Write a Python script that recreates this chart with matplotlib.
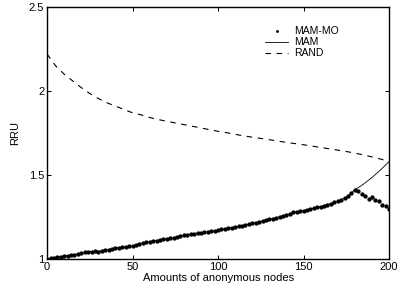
import matplotlib
matplotlib.use('Agg')
from matplotlib import pyplot
import numpy

pyplot.rcParams['font.family'] = ['Liberation Sans', 'DejaVu Sans']

# MAM-MO, sampled every 2 nodes
moNodes = numpy.arange(0, 201, 2)
moValues = [
    1.000, 1.004, 1.006, 1.010, 1.013, 1.018, 1.020, 1.024, 1.026, 1.028,
    1.033, 1.040, 1.044, 1.043, 1.046, 1.044, 1.050, 1.053, 1.056, 1.062,
    1.066, 1.068, 1.070, 1.073, 1.075, 1.077, 1.082, 1.090, 1.096, 1.100,
    1.104, 1.108, 1.110, 1.113, 1.118, 1.121, 1.125, 1.128, 1.131, 1.135,
    1.140, 1.142, 1.147, 1.150, 1.152, 1.157, 1.160, 1.162, 1.165, 1.168,
    1.172, 1.176, 1.180, 1.183, 1.186, 1.190, 1.195, 1.199, 1.203, 1.207,
    1.212, 1.217, 1.222, 1.226, 1.231, 1.236, 1.241, 1.246, 1.252, 1.258,
    1.263, 1.270, 1.278, 1.282, 1.285, 1.288, 1.292, 1.296, 1.302, 1.307,
    1.312, 1.318, 1.324, 1.330, 1.337, 1.344, 1.352, 1.362, 1.375, 1.392,
    1.412, 1.402, 1.386, 1.378, 1.360, 1.370, 1.350, 1.345, 1.322, 1.318,
    1.295,
]

# MAM and RAND, sampled every 5 nodes
nodes = numpy.arange(0, 201, 5)
mamValues = [
    1.000, 1.010, 1.018, 1.025, 1.033, 1.044, 1.046, 1.055, 1.066, 1.072,
    1.077, 1.093, 1.104, 1.112, 1.121, 1.130, 1.140, 1.148, 1.157, 1.163,
    1.172, 1.182, 1.190, 1.201, 1.212, 1.224, 1.236, 1.249, 1.263, 1.280,
    1.288, 1.299, 1.312, 1.327, 1.344, 1.368, 1.412, 1.445, 1.485, 1.530,
    1.580,
]
randValues = [
    2.220, 2.150, 2.100, 2.060, 2.020, 1.985, 1.955, 1.930, 1.910, 1.890,
    1.870, 1.858, 1.842, 1.830, 1.820, 1.810, 1.800, 1.790, 1.780, 1.770,
    1.760, 1.752, 1.742, 1.733, 1.725, 1.718, 1.710, 1.702, 1.694, 1.687,
    1.680, 1.672, 1.664, 1.656, 1.648, 1.640, 1.630, 1.620, 1.608, 1.595,
    1.580,
]

figure = pyplot.figure(figsize=(4.13, 2.92), dpi=100)
axes = figure.add_axes([0.114, 0.113, 0.828, 0.863])

axes.plot(moNodes, moValues, '.', color='black', markersize=4.2, label='MAM-MO')
axes.plot(nodes, mamValues, '-', color='black', linewidth=0.6, label='MAM')
axes.plot(nodes, randValues, '--', color='black', linewidth=0.8,
          dashes=(5, 5), label='RAND')

axes.set_xlim(0, 200)
axes.set_ylim(1, 2.5)
axes.set_xticks([0, 50, 100, 150, 200])
axes.set_yticks([1, 1.5, 2, 2.5])
axes.set_yticklabels(['1', '1.5', '2', '2.5'])
axes.tick_params(direction='in', top=True, right=True, length=3,
                 width=0.7, labelsize=8, pad=2)
for spine in axes.spines.values():
    spine.set_linewidth(1.0)

axes.set_xlabel('Amounts of anonymous nodes', fontsize=8, labelpad=1)
axes.set_ylabel('RRU', fontsize=8, labelpad=6)

axes.legend(loc='upper right', frameon=False, fontsize=7.5, handlelength=2.2,
            handletextpad=0.6, labelspacing=0.1, borderaxespad=0.6,
            markerscale=0.5, bbox_to_anchor=(0.885, 0.965))

figure.savefig('out.png', dpi=100)
